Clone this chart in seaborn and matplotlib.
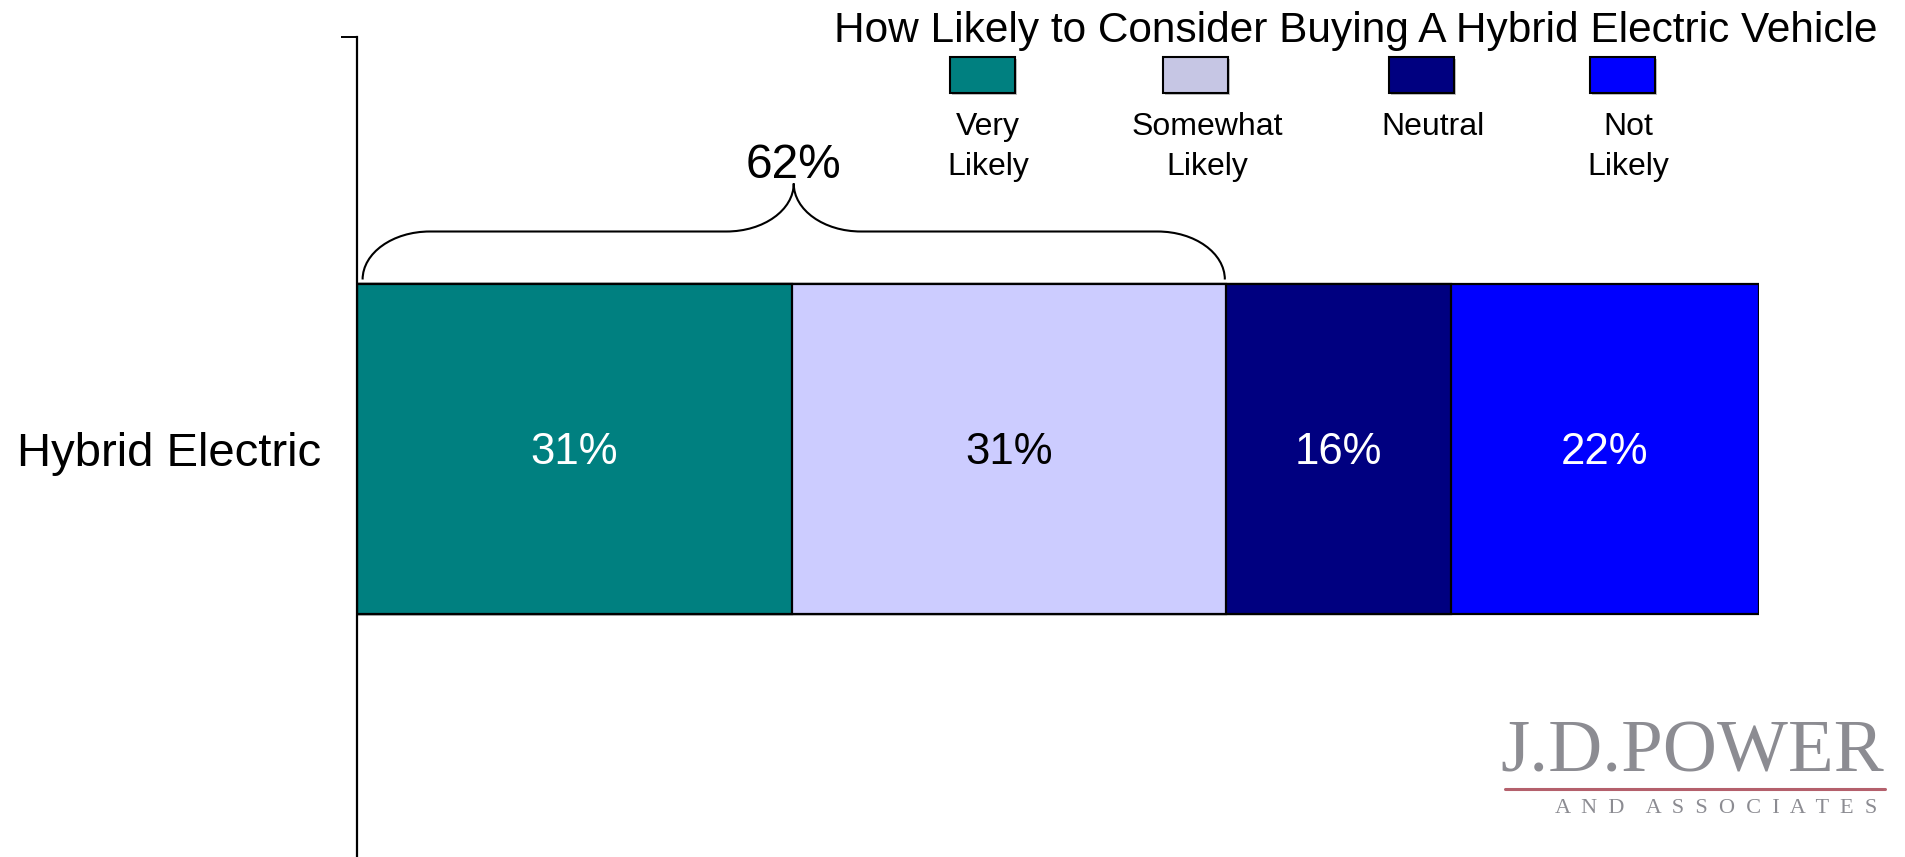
import matplotlib
matplotlib.use("Agg")
import matplotlib.pyplot as plt
import seaborn as sns
import numpy as np
import pandas as pd
from matplotlib.path import Path
from matplotlib.patches import PathPatch, Rectangle
from matplotlib.lines import Line2D

# ---- data ----
category = "Hybrid Electric"
segments = ["Very Likely", "Somewhat Likely", "Neutral", "Not Likely"]
legend_lines = [["Very", "Likely"], ["Somewhat", "Likely"], ["Neutral"], ["Not", "Likely"]]
values = [31, 31, 16, 22]
bar_colors = ["#008080", "#CCCCFF", "#000080", "#0000FF"]
swatch_colors = ["#008080", "#C6C6E4", "#000080", "#0000FF"]
label_colors = ["white", "black", "white", "white"]
title = "How Likely to Consider Buying A Hybrid Electric Vehicle"
brace_span = 2  # first two segments grouped under the brace

# ---- layout (pixels) ----
W, H = 1906, 857
sns.set_theme(style="white")
plt.rcParams["font.family"] = ["Liberation Sans", "DejaVu Sans"]

fig = plt.figure(figsize=(W / 100, H / 100), dpi=100)
fig.patch.set_facecolor("white")


def fx(px):
    return px / W


def fy(py):
    return 1 - py / H


ax_left, ax_right, ax_top, ax_bottom = 357, 1759, 37, 860
ax = fig.add_axes([fx(ax_left), fy(ax_bottom), fx(ax_right) - fx(ax_left), fy(ax_top) - fy(ax_bottom)])
px_per_y = ax_bottom - ax_top  # y data spans one unit

# ---- stacked bar (cumulative bars drawn back to front) ----
cum = np.cumsum(values)
df = pd.DataFrame({"category": [category] * len(values), "segment": segments,
                   "cum": cum, "value": values})
bar_h = 330 / px_per_y
for i in range(len(values) - 1, -1, -1):
    sns.barplot(data=df.iloc[[i]], x="cum", y="category", orient="h",
                color=bar_colors[i], saturation=1, width=bar_h, errorbar=None,
                edgecolor="black", linewidth=1.6, ax=ax)

ax.set_xlim(0, 100)
ax.set_ylim(0.5, -0.5)
ax.set_xlabel("")
ax.set_ylabel("")
for s in ["top", "right", "bottom"]:
    ax.spines[s].set_visible(False)
ax.spines["left"].set_color("black")
ax.spines["left"].set_linewidth(1.6)
ax.set_xticks([])
ax.set_yticks([-0.5, 0.5], minor=True)
ax.tick_params(axis="y", which="minor", left=True, length=11.5, width=1.4,
               color="black", direction="out")
ax.tick_params(axis="y", which="major", left=False, length=0, pad=26,
               labelsize=34, labelcolor="black")

# segment value labels
for i, v in enumerate(values):
    ax.text(cum[i] - v / 2, 15 / px_per_y, f"{v}%", ha="center", va="baseline",
            fontsize=31.5, color=label_colors[i])

# ---- brace over the "likely" segments ----
x0 = 0.4
x1 = cum[brace_span - 1] - 0.1
xm = (x0 + x1) / 2
top = -bar_h / 2
y_end = top - 4 / px_per_y
y_h = top - 52 / px_per_y
y_c = top - 100 / px_per_y
r = 4.8
k = 0.5523
verts = [
    (x0, y_end),
    (x0, y_end + (y_h - y_end) * k), (x0 + r * (1 - k), y_h), (x0 + r, y_h),
    (xm - r, y_h),
    (xm - r + r * k, y_h), (xm, y_h + (y_c - y_h) * (1 - k)), (xm, y_c),
    (xm, y_h + (y_c - y_h) * (1 - k)), (xm + r - r * k, y_h), (xm + r, y_h),
    (x1 - r, y_h),
    (x1 - r * (1 - k), y_h), (x1, y_end + (y_h - y_end) * k), (x1, y_end),
]
codes = [Path.MOVETO,
         Path.CURVE4, Path.CURVE4, Path.CURVE4,
         Path.LINETO,
         Path.CURVE4, Path.CURVE4, Path.CURVE4,
         Path.CURVE4, Path.CURVE4, Path.CURVE4,
         Path.LINETO,
         Path.CURVE4, Path.CURVE4, Path.CURVE4]
ax.add_patch(PathPatch(Path(verts, codes), facecolor="none", edgecolor="black",
                       linewidth=1.5, clip_on=False))
ax.text(xm, y_c - 6 / px_per_y, f"{sum(values[:brace_span])}%", ha="center",
        va="baseline", fontsize=34.5, color="black", clip_on=False)

# ---- legend ----
fig.text(fx(1356), fy(42), title, ha="center", va="baseline", fontsize=30.5, color="black")
swatch_x = [950, 1163, 1389, 1590]
label_x = [988, 1207, 1433, 1628]
sw_w, sw_top, sw_bot = 65, 57, 93
for i in range(len(segments)):
    fig.add_artist(Rectangle((fx(swatch_x[i] + 2), fy(sw_bot + 2)), fx(sw_w), fy(sw_top) - fy(sw_bot),
                             transform=fig.transFigure, facecolor="#9a9a9a",
                             edgecolor="none", alpha=0.6))
    fig.add_artist(Rectangle((fx(swatch_x[i]), fy(sw_bot)), fx(sw_w), fy(sw_top) - fy(sw_bot),
                             transform=fig.transFigure, facecolor=swatch_colors[i],
                             edgecolor="black", linewidth=1.5))
    for j, line in enumerate(legend_lines[i]):
        fig.text(fx(label_x[i]), fy(135 + 40 * j), line, ha="center", va="baseline",
                 fontsize=23, color="black")

# ---- logo ----
logo_grey = "#8C8C92"
serif = ["Liberation Serif", "DejaVu Serif"]
fig.text(fx(1500), fy(772), "J.D.POWER", ha="left", va="baseline", fontsize=54,
         family=serif, color=logo_grey)
fig.add_artist(Line2D([fx(1505), fx(1885)], [fy(789), fy(789)], transform=fig.transFigure,
                      color="#B4606C", linewidth=2.2))
fig.text(fx(1555), fy(813), "A  N  D    A  S  S  O  C  I  A  T  E  S", ha="left",
         va="baseline", fontsize=16, family=serif, color=logo_grey)

fig.savefig("out.png", dpi=100, facecolor="white")
